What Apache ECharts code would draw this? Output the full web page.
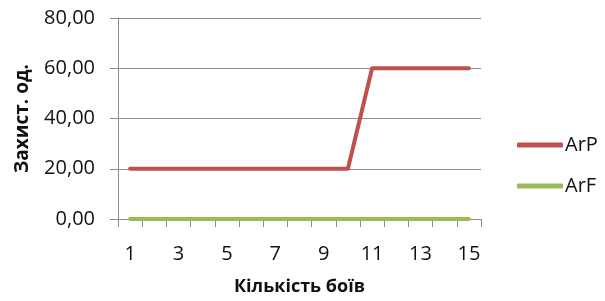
<!DOCTYPE html>
<html><head><meta charset="utf-8">
<script src="https://cdn.jsdelivr.net/npm/echarts@6/dist/echarts.min.js"></script>
<style>html,body{margin:0;padding:0;background:#fff}#c{width:605px;height:301px}</style>
</head><body><div id="c"></div>
<script>
const categories = ['1','2','3','4','5','6','7','8','9','10','11','12','13','14','15'];
const arP = [20,20,20,20,20,20,20,20,20,20,60,60,60,60,60];
const arF = [0,0,0,0,0,0,0,0,0,0,0,0,0,0,0];
const seriesNames = ['ArP','ArF'];
const yTitle = 'Захист. од.';
const xTitle = 'Кількість боїв';

const FONT = 'Open Sans';
const chart = echarts.init(document.getElementById('c'), null, {renderer:'canvas'});
chart.setOption({
  animation: false,
  color: ['#C0504D','#9BBB59'],
  grid: {left:118, right:124, top:18, bottom:80, containLabel:false},
  legend: {
    orient:'vertical', left:512, top:130, itemWidth:46, itemHeight:5, itemGap:21,
    icon:'roundRect',
    textStyle:{fontFamily:FONT, fontSize:20, color:'#111', padding:[0,0,0,-3]},
    data: seriesNames
  },
  xAxis: {
    type:'category', data:categories, boundaryGap:true,
    name:xTitle, nameLocation:'middle', nameGap:59,
    nameTextStyle:{fontFamily:FONT, fontSize:18, fontWeight:'bold', color:'#111'},
    axisLine:{lineStyle:{color:'#8c8c8c', width:1}},
    axisTick:{show:true, interval:0, length:8, lineStyle:{color:'#8c8c8c'}},
    axisLabel:{interval:1, margin:25, fontFamily:FONT, fontSize:20, color:'#111'},
    splitLine:{show:false}
  },
  yAxis: {
    type:'value', min:0, max:80, interval:20,
    name:yTitle, nameLocation:'middle', nameGap:86, nameRotate:90,
    nameTextStyle:{fontFamily:FONT, fontSize:19, fontWeight:'bold', color:'#111'},
    axisLine:{show:true, lineStyle:{color:'#8c8c8c', width:1}},
    axisTick:{show:true, length:8, lineStyle:{color:'#8c8c8c'}},
    axisLabel:{margin:23, fontFamily:FONT, fontSize:20, color:'#111',
      formatter: v => v.toFixed(2).replace('.', ',')},
    splitLine:{show:true, lineStyle:{color:'#8c8c8c', width:1}}
  },
  series: [
    {name:seriesNames[0], type:'line', data:arP, showSymbol:false, symbol:'none',
     lineStyle:{width:4, cap:'round', join:'round', color:'#C0504D'}, z:3},
    {name:seriesNames[1], type:'line', data:arF, showSymbol:false, symbol:'none',
     lineStyle:{width:4, cap:'round', join:'round', color:'#9BBB59'}, z:3}
  ]
});
</script></body></html>
